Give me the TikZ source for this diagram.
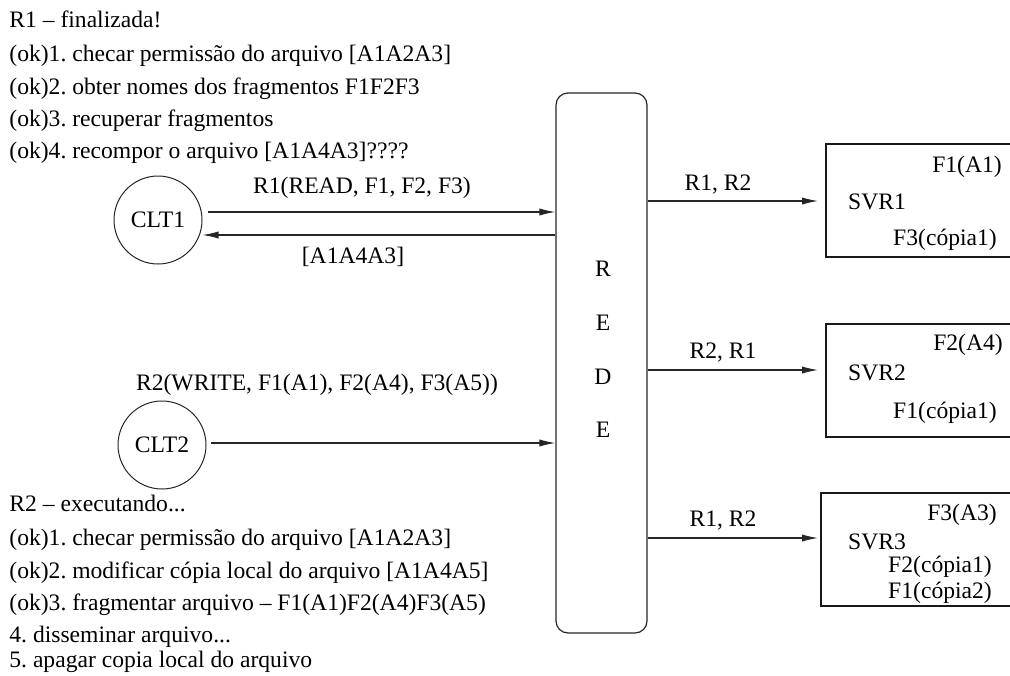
\documentclass[tikz,border=0pt]{standalone}
\usepackage{fontspec}
\setmainfont{Liberation Serif}
\usetikzlibrary{arrows.meta,calc}
\frenchspacing
\begin{document}
\begin{tikzpicture}[x=0.5pt,y=-0.5pt,
  every node/.style={font=\fontsize{11.8}{14}\selectfont, inner sep=0pt},
  line/.style={line width=0.55pt, draw=black!85},
  arr/.style={line, -{Latex[length=8pt,width=3.6pt]}},
  txt/.style={anchor=base west},
  clt/.style={circle, draw=black!85, line width=0.5pt, minimum size=44pt},
  svr/.style={draw=black!90, line width=0.6pt, minimum width=102pt, minimum height=56.5pt},
]
\useasboundingbox (0,0) rectangle (1010,675);
\clip (0,0) rectangle (1010,675);

% top status text
\node[txt] (t1) at (9,27) {R1 – finalizada!};
\node[txt] (t2) at (9,61) {(ok)1. checar permissão do arquivo [A1A2A3]};
\node[txt] (t3) at (9,94) {(ok)2. obter nomes dos fragmentos F1F2F3};
\node[txt] (t4) at (9,126) {(ok)3. recuperar fragmentos};
\node[txt] (t5) at (9,158) {(ok)4. recompor o arquivo [A1A4A3]????};

% bottom status text
\node[txt] (b1) at (9,511) {R2 – executando...};
\node[txt] (b2) at (9,545) {(ok)1. checar permissão do arquivo [A1A2A3]};
\node[txt] (b3) at (9,578) {(ok)2. modificar cópia local do arquivo [A1A4A5]};
\node[txt] (b4) at (9,610) {(ok)3. fragmentar arquivo – F1(A1)F2(A4)F3(A5)};
\node[txt] (b5) at (9,642) {4. disseminar arquivo...};
\node[txt] (b6) at (9,667) {5. apagar copia local do arquivo};

% clients
\node[clt] (CLT1) at (158,220) {CLT1};
\node[clt] (CLT2) at (162,445) {CLT2};

% network
\node[draw=black!85, line width=0.6pt, rounded corners=6pt, minimum width=45.5pt, minimum height=270pt] (REDE) at (601.5,363) {};
\node (L1) at (603,269) {R};
\node (L2) at (603,323) {E};
\node (L3) at (603,377) {D};
\node (L4) at (603,430) {E};

% client arrows
\draw[arr] ([yshift=4pt,xshift=2.5pt]CLT1.east) -- ([yshift=4pt]CLT1.east -| REDE.west);
\draw[arr] ([yshift=-7.5pt]CLT1.east -| REDE.west) -- ([yshift=-7.5pt]CLT1.east);
\draw[arr] ([xshift=2pt,yshift=1pt]CLT2.east) -- ([yshift=1pt]CLT2.east -| REDE.west);
\node (l1) at (362,188) {R1(READ, F1, F2, F3)};
\node (l2) at (353,257) {[A1A4A3]};
\node (l3) at (317,385) {R2(WRITE, F1(A1), F2(A4), F3(A5))};

% servers
\node[svr] (SVR1) at (928,200.5) {};
\node[svr] (SVR2) at (928,380.5) {};
\node[svr] (SVR3) at (923,549.5) {};

\node (s1a) at (967,167) {F1(A1)};
\node (s1b) at (877,202) {SVR1};
\node (s1c) at (945,240) {F3(cópia1)};

\node (s2a) at (968,345) {F2(A4)};
\node (s2b) at (877,373) {SVR2};
\node (s2c) at (945,413) {F1(cópia1)};

\node (s3a) at (962,515) {F3(A3)};
\node (s3b) at (877,542) {SVR3};
\node (s3c) at (940,567) {F2(cópia1)};
\node (s3d) at (940,593) {F1(cópia2)};

% network to servers
\coordinate (a1) at (818,201);
\coordinate (a2) at (818,370);
\coordinate (a3) at (818,538);
\draw[arr] (REDE.east |- a1) -- (a1);
\draw[arr] (REDE.east |- a2) -- (a2);
\draw[arr] (REDE.east |- a3) -- (a3);
\node (m1) at (718,184) {R1, R2};
\node (m2) at (723,352) {R2, R1};
\node (m3) at (723,520) {R1, R2};
\end{tikzpicture}
\end{document}
